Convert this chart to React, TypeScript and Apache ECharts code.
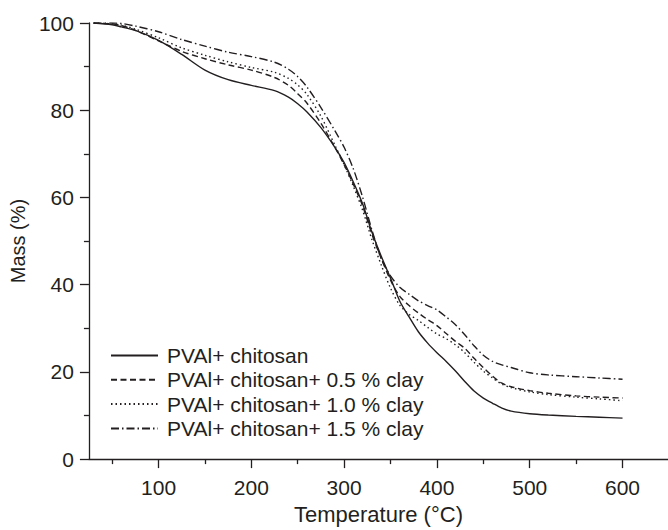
import React, { useEffect, useRef } from "react";
import * as echarts from "echarts";

const temps = [30, 50, 60, 75, 100, 125, 150, 175, 200, 225, 240, 250, 260, 275, 290, 300, 310, 320, 330, 340, 350, 360, 370, 380, 390, 400, 410, 420, 430, 440, 450, 460, 470, 480, 500, 520, 550, 575, 600];

const massPlain = [100, 99.6, 99.1, 98.3, 96, 92.8, 89.2, 87, 85.7, 84.5, 83, 81.5, 79.6, 76, 71.5, 68, 63.5, 58.5, 52, 46.5, 41.5, 36.2, 32.6, 29.2, 26.6, 24.4, 22.4, 20.2, 17.8, 15.6, 14, 12.8, 11.7, 11, 10.4, 10.1, 9.8, 9.6, 9.4];
const mass05 = [100, 99.8, 99.4, 98.3, 95.9, 93.5, 91.8, 90.4, 89.2, 87.5, 85.7, 83.8, 81.6, 77, 71.5, 67.5, 63, 58, 51.5, 46, 41, 37.3, 35.2, 33.5, 32, 30.6, 28.8, 27, 25.4, 23.1, 21, 19, 17.4, 16.6, 15.7, 15.1, 14.5, 14.2, 14];
const mass10 = [100, 99.8, 99.5, 98.6, 96.6, 94.3, 92.6, 91.1, 89.8, 88.7, 87.3, 85.8, 83.6, 78.6, 72, 67.5, 62.5, 57, 50.3, 44.5, 39.2, 35.3, 33.2, 31.8, 30.2, 28.7, 27.6, 26.2, 24.4, 22.2, 20.2, 18.6, 17.2, 16.4, 15.4, 14.8, 14.2, 13.8, 13.4];
const mass15 = [100, 100, 99.9, 99.3, 98, 96.2, 94.7, 93.3, 92.3, 91, 89.4, 87.7, 85.3, 80.6, 75.3, 71.5, 66.5, 60, 52.5, 46, 42, 39.4, 37.8, 36.3, 35.2, 34.2, 32.6, 30.8, 28.5, 26, 23.8, 22.4, 21.6, 21, 19.8, 19.3, 18.9, 18.6, 18.3];

const seriesNames = ["PVAl+ chitosan", "PVAl+ chitosan+ 0.5 % clay", "PVAl+ chitosan+ 1.0 % clay", "PVAl+ chitosan+ 1.5 % clay"];
const majorX = [100, 200, 300, 400, 500, 600];
const minorX = [50, 150, 250, 350, 450, 550];

const INK = "#231f20";
const FONT = "Liberation Sans, Arial, sans-serif";

export default function App() {
  const ref = useRef<HTMLDivElement>(null);
  useEffect(() => {
    if (!ref.current) return;
    const chart = echarts.init(ref.current, undefined, { renderer: "svg" });
    const allMass = [massPlain, mass05, mass10, mass15];
    const dashes: any[] = ["solid", [6, 3.5], [1.5, 3], [8, 3, 1.5, 3]];
    chart.setOption({
      animation: false,
      backgroundColor: "#ffffff",
      textStyle: { fontFamily: FONT, color: INK },
      grid: { left: 86, top: 23, right: 0, bottom: 66, containLabel: false },
      legend: {
        orient: "vertical",
        left: 105,
        top: 340,
        itemWidth: 47,
        itemHeight: 14,
        itemGap: 3.3,
        itemStyle: { opacity: 0 },
        textStyle: { fontSize: 21, color: INK, fontFamily: FONT, padding: [0, 0, 0, 4] },
        data: seriesNames,
      },
      xAxis: [
        {
          type: "value",
          min: 25,
          max: 649,
          name: "Temperature (°C)",
          nameLocation: "middle",
          nameGap: 43,
          nameTextStyle: { fontSize: 22, color: INK, fontFamily: FONT },
          axisLine: { show: true, lineStyle: { color: INK, width: 1.3 } },
          axisTick: { show: true, inside: false, length: 9, customValues: majorX, lineStyle: { color: INK, width: 1.3 } },
          axisLabel: { show: true, customValues: majorX, fontSize: 21, color: INK, margin: 18, fontFamily: FONT },
          splitLine: { show: false },
        },
        {
          type: "value",
          min: 25,
          max: 649,
          position: "bottom",
          axisLine: { show: false },
          axisTick: { show: true, inside: false, length: 5, customValues: minorX, lineStyle: { color: INK, width: 1.3 } },
          axisLabel: { show: false },
          splitLine: { show: false },
        },
      ],
      yAxis: {
        type: "value",
        min: 0,
        max: 100,
        interval: 20,
        name: "Mass (%)",
        nameLocation: "middle",
        nameGap: 58,
        nameTextStyle: { fontSize: 20, color: INK, fontFamily: FONT },
        axisLine: { show: true, lineStyle: { color: INK, width: 1.3 } },
        axisTick: { show: true, inside: false, length: 9, lineStyle: { color: INK, width: 1.3 } },
        minorTick: { show: true, splitNumber: 2, length: 5, lineStyle: { color: INK, width: 1.3 } },
        axisLabel: { fontSize: 21, color: INK, margin: 15, fontFamily: FONT },
        splitLine: { show: false },
        minorSplitLine: { show: false },
      },
      series: allMass.map((m, i) => ({
        name: seriesNames[i],
        type: "line",
        xAxisIndex: 0,
        data: temps.map((t, j) => [t, m[j]]),
        smooth: 0.3,
        symbol: "none",
        showSymbol: false,
        lineStyle: { color: INK, width: 1.4, type: dashes[i] },
        itemStyle: { color: INK },
      })),
    });
    return () => chart.dispose();
  }, []);
  return <div ref={ref} style={{ position: "fixed", left: 0, top: 0, width: 668, height: 530 }} />;
}
